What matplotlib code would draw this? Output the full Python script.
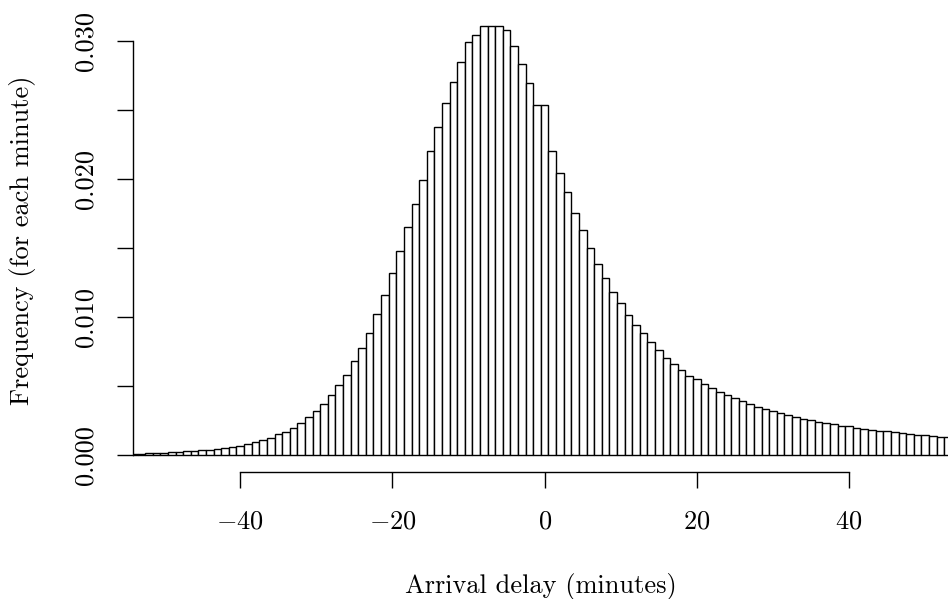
import matplotlib.pyplot as plt
import numpy as np

plt.rcParams['font.family'] = 'cmr10'
plt.rcParams['mathtext.fontset'] = 'cm'
plt.rcParams['axes.unicode_minus'] = False

# arrival delay (minutes), one bin per minute, centred on the integers
delay = np.arange(-54, 54)
# frequency per minute (x 1e-3)
freq = np.array([
    0.07, 0.10, 0.12, 0.14, 0.17, 0.20, 0.22, 0.27, 0.30, 0.34,
    0.39, 0.41, 0.50, 0.58, 0.68, 0.82, 0.92, 1.06, 1.26, 1.50,
    1.69, 1.98, 2.30, 2.72, 3.21, 3.70, 4.32, 5.07, 5.77, 6.81,
    7.75, 8.87, 10.20, 11.57, 13.17, 14.78, 16.52, 18.18, 19.93, 22.01,
    23.74, 25.48, 27.05, 28.45, 29.90, 30.43, 31.06, 31.11, 31.06, 30.77,
    29.64, 28.36, 26.96, 25.38, 25.33, 22.04, 20.46, 19.04, 17.51, 16.33,
    14.98, 13.82, 12.83, 11.79, 11.04, 10.14, 9.42, 8.82, 8.17, 7.61,
    7.05, 6.60, 6.17, 5.75, 5.53, 5.14, 4.88, 4.57, 4.35, 4.15,
    3.89, 3.67, 3.50, 3.36, 3.21, 3.02, 2.88, 2.78, 2.62, 2.57,
    2.41, 2.34, 2.25, 2.12, 2.10, 1.98, 1.91, 1.81, 1.74, 1.74,
    1.67, 1.59, 1.54, 1.47, 1.43, 1.38, 1.33, 1.28]) * 1e-3

xticks = [-40, -20, 0, 20, 40]
xticklabels = [r"$-40$", r"$-20$", r"$0$", r"$20$", r"$40$"]
yticks = [0.000, 0.005, 0.010, 0.015, 0.020, 0.025, 0.030]
yticklabels = ["0.000", "", "0.010", "", "0.020", "", "0.030"]

W, H = 948, 599
fig = plt.figure(figsize=(W/100, H/100), dpi=100)
# plot region: left at x=133, bottom at y=472 (px from top)
ax = fig.add_axes([133/W, (H-472)/H, 1-133/W, 472/H])

ax.bar(delay, freq, width=1.0, color='white', edgecolor='black', linewidth=1.0)

px = 13800.0  # pixels per unit of frequency
ax.set_xlim(-54.1, 53.0)
ax.set_ylim(-17/px, 0.03 + 41/px)

ax.spines['top'].set_visible(False)
ax.spines['right'].set_visible(False)
ax.spines['left'].set_bounds(0, 0.03)
ax.spines['bottom'].set_bounds(-40, 40)
ax.spines['left'].set_linewidth(1.0)
ax.spines['bottom'].set_linewidth(1.0)

fs = 19
ax.set_xticks(xticks)
ax.set_xticklabels(xticklabels, fontsize=fs)
ax.set_yticks(yticks)
ax.set_yticklabels(yticklabels, fontsize=fs, rotation=90, va='center')
ax.tick_params(axis='both', length=11.5, width=1.0, direction='out')
ax.tick_params(axis='x', pad=16)
ax.tick_params(axis='y', pad=14)

ax.set_xlabel("Arrival delay (minutes)", fontsize=fs)
ax.xaxis.set_label_coords(0.5, (472-593)/472)
ax.xaxis.label.set_va('baseline')
ax.set_ylabel("Frequency (for each minute)", fontsize=fs)
ax.yaxis.set_label_coords((22-133)/815, (472-240)/472)
ax.yaxis.label.set_va('center')

fig.savefig("out.png", dpi=100)
